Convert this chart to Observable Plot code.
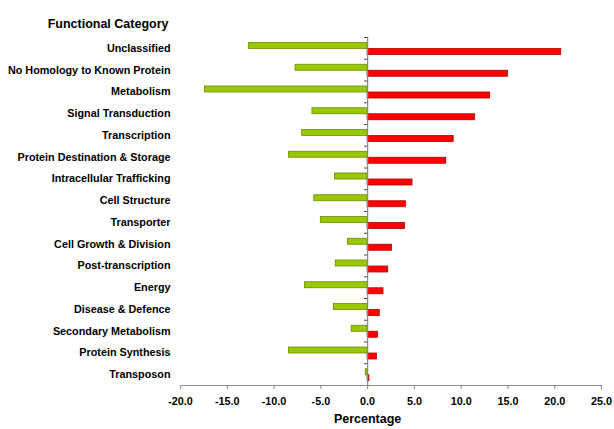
<!DOCTYPE html>
<html>
<head>
<meta charset="utf-8">
<script src="https://cdn.jsdelivr.net/npm/d3@7"></script>
<script src="https://cdn.jsdelivr.net/npm/@observablehq/plot@0.6"></script>
<style>
  html, body { margin: 0; padding: 0; background: #fff; }
  #chart svg { display: block; }
</style>
</head>
<body>
<div id="chart"></div>
<script>
const categories = [
  "Unclassified",
  "No Homology to Known Protein",
  "Metabolism",
  "Signal Transduction",
  "Transcription",
  "Protein Destination & Storage",
  "Intracellular Trafficking",
  "Cell Structure",
  "Transporter",
  "Cell Growth & Division",
  "Post-transcription",
  "Energy",
  "Disease & Defence",
  "Secondary Metabolism",
  "Protein Synthesis",
  "Transposon"
];
const greenValues = [-12.7, -7.7, -17.4, -5.9, -7.0, -8.4, -3.5, -5.7, -5.0, -2.1, -3.4, -6.7, -3.6, -1.7, -8.4, -0.2];
const redValues = [20.7, 15.0, 13.1, 11.5, 9.2, 8.4, 4.8, 4.1, 4.0, 2.6, 2.2, 1.7, 1.3, 1.1, 1.0, 0.2];
const xTicks = [-20, -15, -10, -5, 0, 5, 10, 15, 20, 25];
const titleText = "Functional Category";
const xLabel = "Percentage";

const green = categories.map((c, i) => ({category: c, value: greenValues[i]}));
const red = categories.map((c, i) => ({category: c, value: redValues[i]}));

const W = 614, H = 429, mT = 37, mB = 44;
const band = (H - mT - mB) / categories.length;
const axisGray = "#8a8a8a";

const chart = Plot.plot({
  width: W,
  height: H,
  marginLeft: 180,
  marginRight: 13,
  marginTop: mT,
  marginBottom: mB,
  style: {fontFamily: "'Liberation Sans', Arial, sans-serif", background: "#fff", color: "#000"},
  x: {domain: [-20, 25]},
  y: {domain: categories, padding: 0, round: false},
  marks: [
    Plot.barX(green, {
      x1: 0, x2: "value", y: "category",
      insetTop: 5.5, insetBottom: band - 11.5,
      fill: "#99c800", stroke: "#6b8c00", strokeWidth: 0.8
    }),
    Plot.barX(red, {
      x1: 0, x2: "value", y: "category",
      insetTop: 11.5, insetBottom: band - 17.5,
      fill: "#ff0000", stroke: "#b30000", strokeWidth: 0.8
    }),
    Plot.ruleX([0], {stroke: axisGray, strokeWidth: 1.2}),
    Plot.ruleY(categories, {y: d => d, x1: -0.33, x2: 0, dy: -band / 2, stroke: "#444", strokeWidth: 1}),
    Plot.frame({anchor: "bottom", stroke: axisGray, strokeWidth: 1.2}),
    Plot.axisX({
      ticks: xTicks, tickFormat: d => d.toFixed(1), tickSize: 4, tickPadding: 7.5,
      stroke: axisGray, fontSize: 10.8, fontWeight: "bold", fill: "#000", label: null
    }),
    Plot.axisY({
      anchor: "left", tickSize: 0, tickPadding: 10,
      fontSize: 10.8, fontWeight: "bold", fill: "#000", label: null
    }),
    Plot.text([xLabel], {
      x: 0, frameAnchor: "bottom", dy: 37, text: d => d,
      fontSize: 12.5, fontWeight: "bold", fill: "#000"
    }),
    Plot.text([titleText], {
      frameAnchor: "top-left", dx: -12, dy: -18, text: d => d, textAnchor: "end",
      fontSize: 12.5, fontWeight: "bold", fill: "#000"
    })
  ]
});
document.getElementById("chart").appendChild(chart);
</script>
</body>
</html>
